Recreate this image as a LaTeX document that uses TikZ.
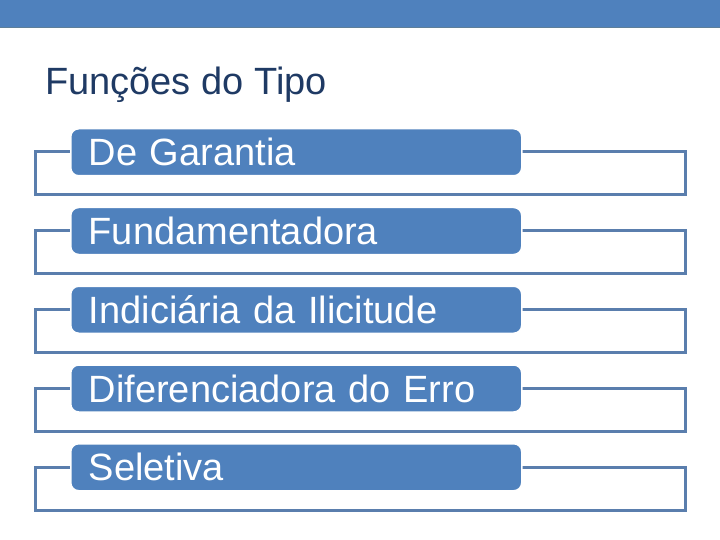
\documentclass[tikz,border=0pt]{standalone}
\usepackage{fontspec}
\setmainfont{Liberation Sans}
\definecolor{barblue}{HTML}{4F81BD}
\definecolor{barline}{HTML}{5E7F99}
\definecolor{boxblue}{HTML}{4F81BD}
\definecolor{frameblue}{HTML}{5A7EAD}
\definecolor{titlenavy}{HTML}{1F3A64}

\begin{document}
\begin{tikzpicture}[x=1pt, y=-1pt,
    labelbox/.style={draw=white, line width=1.5pt, fill=boxblue, rounded corners=8pt,
      minimum width=451pt, minimum height=47pt, inner xsep=18pt, inner ysep=0pt,
      text width=415pt, align=left, text=white, font=\fontsize{38}{42}\selectfont},
    framebox/.style={draw=frameblue, line width=3pt}]
  \useasboundingbox (0,0) rectangle (720,540);
  % top bar
  \fill[barblue] (0,0) rectangle (720,28);
  \draw[barline, line width=1pt] (0,28) -- (720,28);
  \node[anchor=base west, inner sep=0pt, text=titlenavy,
    font=\fontsize{38}{42}\selectfont] (title) at (45,95) {Funções do Tipo};
  % rows
  \foreach \i/\txt in {1/De Garantia, 2/Fundamentadora, 3/Indiciária da Ilicitude,
      4/Diferenciadora do Erro, 5/Seletiva} {
    \pgfmathsetmacro\ytop{128+78.75*(\i-1)}
    \draw[framebox] (35,\ytop+24) rectangle (685,\ytop+67);
    \node[labelbox, anchor=north west] (g\i) at (70,\ytop) {\txt};
  }
\end{tikzpicture}
\end{document}
